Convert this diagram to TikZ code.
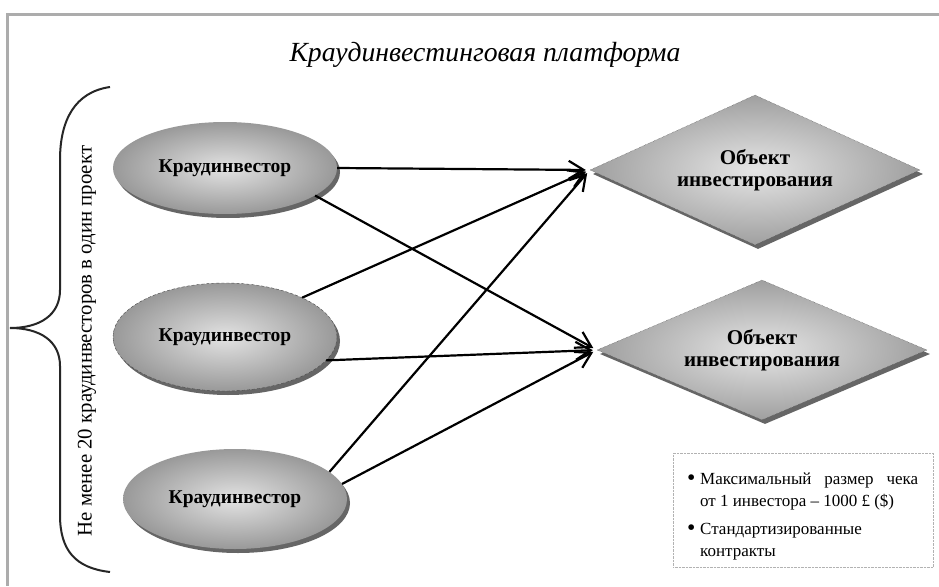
\documentclass[tikz,border=0pt]{standalone}
\usepackage{fontspec}
\setmainfont{Liberation Serif}
\usetikzlibrary{shapes.geometric,arrows.meta,shadows}
\begin{document}
\begin{tikzpicture}[x=1pt,y=-1pt,
  investor/.style={ellipse, minimum width=224pt, inner color=gray!22, outer color=gray!80,
    drop shadow={shadow xshift=3pt,shadow yshift=-4pt,fill=black!60,opacity=1},
    font=\fontsize{19.5}{22}\selectfont\bfseries},
  object/.style={diamond, aspect=2.2, minimum width=330pt, inner sep=0pt, inner color=gray!20, outer color=gray!75,
    draw=black!75, densely dotted, thin,
    drop shadow={shadow xshift=3pt,shadow yshift=-4pt,fill=black!60,opacity=1},
    font=\fontsize{21}{24}\selectfont\bfseries, align=center},
  link/.style={-{Straight Barb[length=15pt,width=18pt]}, line width=2.2pt, shorten >=4pt},
  frameline/.style={draw=gray!65, line width=3pt},
  bracestyle/.style={draw=black!85, line width=2pt},
  infotext/.style={anchor=base west, inner sep=0pt, font=\fontsize{17}{20}\selectfont}
]
\useasboundingbox (0,0) rectangle (939,586);
\fill[white] (0,0) rectangle (939,586);
% frame
\coordinate (fTL) at (7.5,14.5);
\coordinate (fTR) at (939,14.5);
\coordinate (fBL) at (7.5,586);
\draw[frameline] (fTR) -- (fTL) -- (fBL);

% title
\node[font=\fontsize{27.7}{30}\selectfont\itshape] (title) at (485,55) {Краудинвестинговая платформа};

% brace
\coordinate (bTop) at (110,87);
\coordinate (bTip) at (10,328);
\coordinate (bBot) at (110,572);
\draw[bracestyle] (bTop) .. controls (75,92) and (60,120) .. (60,160) -- (60,290)
  .. controls (60,315) and (40,328) .. (bTip)
  .. controls (40,328) and (60,341) .. (60,366) -- (60,515)
  .. controls (60,550) and (75,568) .. (bBot);
\node[rotate=90, font=\fontsize{20.8}{23}\selectfont] (bracetext) at (87,341) {Не менее 20 краудинвесторов в один проект};

% investors
\node[investor, minimum height=92pt] (e1) at (225,168) {Краудинвестор};
\node[investor, minimum height=108pt, draw=black!70, densely dashed, thin] (e2) at (225,337) {Краудинвестор};
\node[investor, minimum height=100pt] (e3) at (235,499) {Краудинвестор};

% objects
\node[object, minimum height=150pt] (d1) at (755,170) {Объект\\[-2pt]инвестирования};
\node[object, minimum height=140pt] (d2) at (762,350) {Объект\\[-2pt]инвестирования};

% links
\draw[link] (e1.east) -- (d1.west);
\draw[link] (e1.-17) -- (d2.west);
\draw[link] (e2.27) -- (d1.west);
\draw[link] (e2.-13) -- (d2.west);
\draw[link] (e3.16) -- (d1.west);
\draw[link] (e3.8) -- (d2.west);

% info box
\node[draw=gray!60, densely dotted, minimum width=260pt, minimum height=114pt, anchor=north west, inner sep=0pt] (info) at (673,453) {};
\node[infotext] (b1) at (687,484) {\raisebox{-1.6pt}{\scalebox{1.4}{\textbullet}}};
\node[infotext] (t1) at (700,484) {\makebox[218pt][s]{Максимальный размер чека}};
\node[infotext] (t2) at (700,506) {от 1 инвестора – 1000 £ (\$)};
\node[infotext] (b2) at (687,534) {\raisebox{-1.6pt}{\scalebox{1.4}{\textbullet}}};
\node[infotext] (t3) at (700,534) {Стандартизированные};
\node[infotext] (t4) at (700,556) {контракты};
\end{tikzpicture}
\end{document}
